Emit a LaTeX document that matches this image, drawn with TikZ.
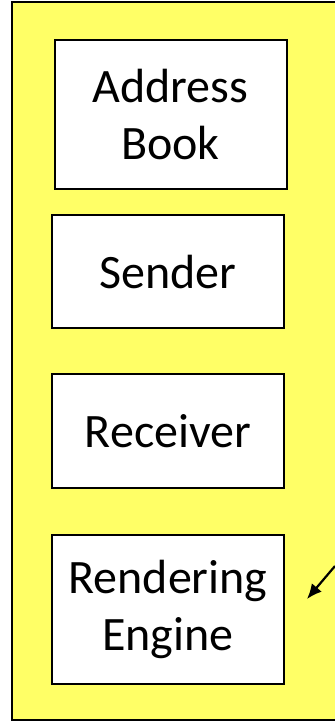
\documentclass[tikz,border=0pt]{standalone}
\usepackage{fontspec}
\setmainfont{Carlito}
\usetikzlibrary{arrows.meta}
\definecolor{panelyellow}{RGB}{255,255,102}
\tikzset{
  module/.style={draw=black, line width=2pt, fill=white, rectangle,
    minimum width=232pt, align=center, inner sep=0pt,
    font=\fontsize{48}{57}\selectfont},
  pointer/.style={draw=black, line width=2.2pt, -{Latex[length=15pt,width=13pt]}}
}
\begin{document}
\begin{tikzpicture}[x=1pt, y=-1pt]
  \useasboundingbox (0,0) rectangle (335,721);
  % white page, then the yellow container panel open on the right
  \fill[white] (0,0) rectangle (335,721);
  \fill[panelyellow] (12,2) rectangle (335,720);
  \draw[line width=2pt] (335,2) -- (12,2) -- (12,720) -- (335,720);
  % component boxes
  \node[module, minimum height=149pt] (book) at (170.5,114.5) {Address\\Book};
  \node[module, minimum height=113pt] (sender) at (168,271.5) {Sender};
  \node[module, minimum height=114pt] (receiver) at (168,431) {Receiver};
  \node[module, minimum height=149pt] (engine) at (168,609.5) {Rendering\\Engine};
  % pointer arriving from the right edge
  \coordinate (src) at (335,566);
  \coordinate (tip) at (307,599);
  \draw[pointer] (src) -- (tip);
\end{tikzpicture}
\end{document}
